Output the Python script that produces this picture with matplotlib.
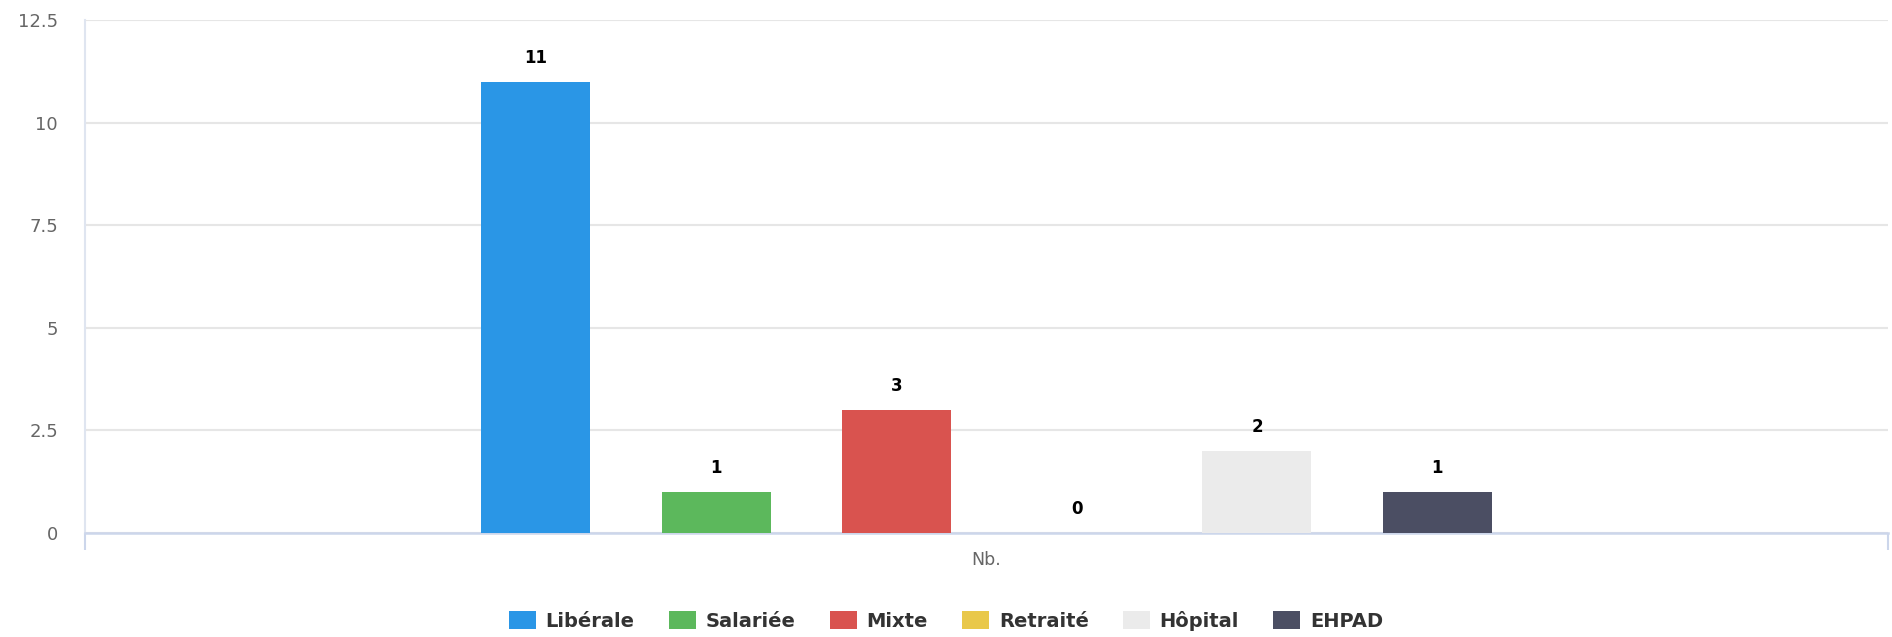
import matplotlib
matplotlib.use("Agg")
from matplotlib import pyplot as plt
from matplotlib.patches import Patch

# Data
categories = ["Libérale", "Salariée", "Mixte", "Retraité", "Hôpital", "EHPAD"]
values = [11, 1, 3, 0, 2, 1]
colors = ["#2a96e6", "#5cb85c", "#d9534f", "#e9c84a", "#ebebeb", "#4b4e63"]
x_label = "Nb."
y_ticks = [0, 2.5, 5, 7.5, 10, 12.5]
y_tick_labels = ["0", "2.5", "5", "7.5", "10", "12.5"]

fig = plt.figure(figsize=(18.92, 6.37), dpi=100)
ax = fig.add_axes([85 / 1892, 1 - 533 / 637, (1888 - 85) / 1892, (533 - 20) / 637])

bar_w = 0.0605
step = 0.1
n = len(categories)
for i, (cat, val, col) in enumerate(zip(categories, values, colors)):
    xpos = (i - (n - 1) / 2) * step
    ax.bar(xpos, val, width=bar_w, color=col, zorder=3)
    ax.annotate(str(val), (xpos, val), xytext=(0, 17), textcoords="offset points",
                ha="center", va="center", fontsize=12, fontweight="bold", color="#000000")

ax.set_xlim(-0.5, 0.5)
ax.set_ylim(0, 12.5)
ax.set_yticks(y_ticks)
ax.set_yticklabels(y_tick_labels)
ax.tick_params(axis="y", length=0, pad=19.5, labelsize=13, labelcolor="#666666")
ax.set_xticks([-0.5, 0.5])
ax.set_xticklabels(["", ""])
ax.tick_params(axis="x", length=12, width=1.5, color="#ccd6eb", direction="out")
ax.grid(axis="y", color="#e6e6e6", linewidth=1.5, zorder=0)
ax.set_axisbelow(True)

for s in ["top", "right"]:
    ax.spines[s].set_visible(False)
ax.spines["bottom"].set_color("#ccd6eb")
ax.spines["bottom"].set_linewidth(1.8)
ax.spines["left"].set_color("#dfe5f0")
ax.spines["left"].set_linewidth(1.5)

ax.set_xlabel(x_label, fontsize=12.5, color="#666666", labelpad=-2.5)

handles = [Patch(facecolor=c, edgecolor="none", label=l) for c, l in zip(colors, categories)]
fig.legend(handles=handles, loc="center", bbox_to_anchor=(0.5, 1 - 621 / 637), ncol=n,
           frameon=False, prop={"weight": "bold", "size": 14}, labelcolor="#333333",
           handlelength=1.39, handleheight=1.03, handletextpad=0.51, columnspacing=1.75)

fig.savefig("out.png", dpi=100)
